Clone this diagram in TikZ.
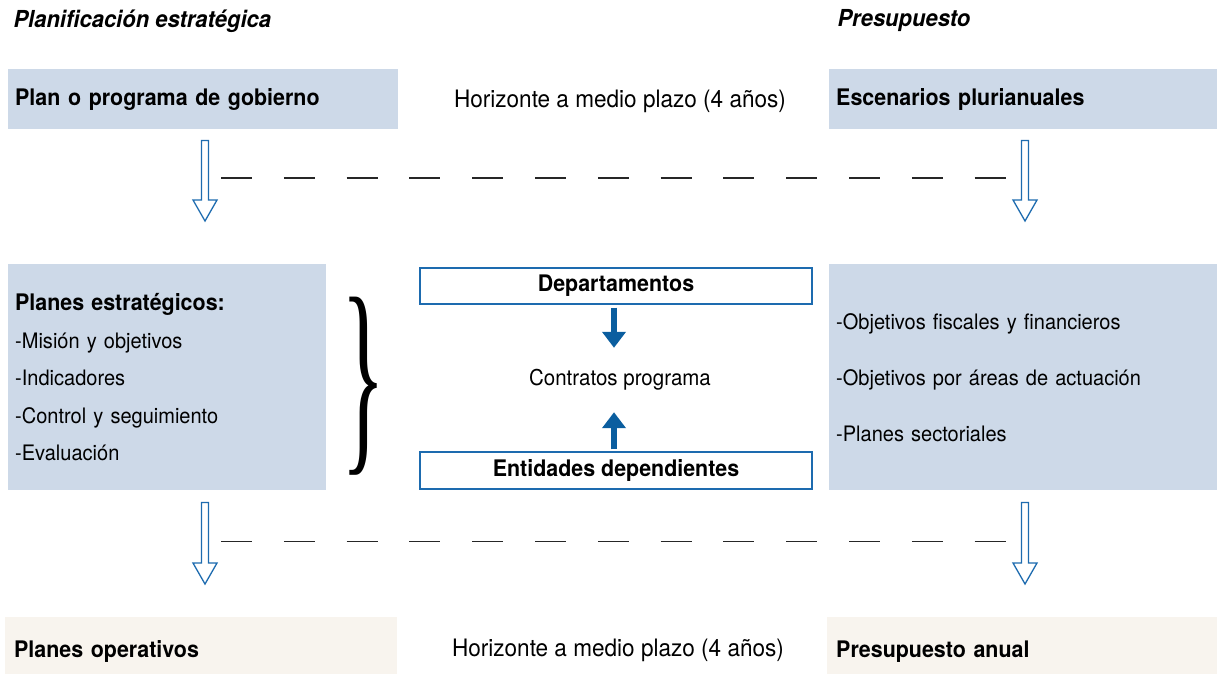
\documentclass[tikz,border=0pt]{standalone}
\usepackage{fontspec}
\setmainfont[FakeStretch=0.94]{TeX Gyre Heros}
\newfontfamily\bracefont{Liberation Serif}
\usepackage{tikz}
\usetikzlibrary{arrows.meta,calc,positioning}
\definecolor{boxblue}{HTML}{CDD9E8}
\definecolor{boxbeige}{HTML}{F8F4EE}
\definecolor{arrblue}{HTML}{1D6BAF}
\definecolor{solidblue}{HTML}{0B5E9F}

\begin{document}
\begin{tikzpicture}[x=1pt, y=-1pt,
                    bluebox/.style={rectangle, fill=boxblue, inner xsep=7pt, align=left,
                                    anchor=north west, font=\fontsize{22.8pt}{27pt}\selectfont},
                    beigebox/.style={bluebox, fill=boxbeige},
                    unitbox/.style={rectangle, draw=arrblue, line width=1.2pt, fill=white,
                                    minimum width=392pt, font=\fontsize{22.8pt}{27pt}\selectfont\bfseries},
                    hollow/.style={draw=arrblue, line width=1.3pt, fill=white,
                                   to path={let \p1=(\tikztostart), \p2=(\tikztotarget) in
                                   (\x1-3.5pt,\y1) -- (\x1-3.5pt,\y2+21pt) -- (\x1-12pt,\y2+21pt) -- (\x1,\y2)
                                   -- (\x1+12pt,\y2+21pt) -- (\x1+3.5pt,\y2+21pt) -- (\x1+3.5pt,\y1) -- cycle}},
                    solidarr/.style={draw=solidblue, line width=6.5pt, -{Triangle[width=23pt,length=16pt]}},
                    dashline/.style={line width=1.5pt, black!85, dash pattern=on 31pt off 31.8pt},
                    horizon/.style={font=\fontsize{24pt}{28pt}\selectfont}
                    ]
\useasboundingbox (0,0) rectangle (1217,673);

%% headers
\node[anchor=west, font=\fontsize{23.4pt}{27pt}\selectfont\bfseries\itshape] (hplan) at (10,21) {Planificación estratégica};
\node[anchor=west, font=\fontsize{23.4pt}{27pt}\selectfont\bfseries\itshape] (hpres) at (834,21) {Presupuesto};

%% top row
\node[bluebox, text width=376pt, minimum height=60pt] (plan) at (8,69) {\bfseries Plan o programa de gobierno};
\node[horizon] (hor1) at (620,101) {Horizonte a medio plazo (4 años)};
\node[bluebox, text width=374pt, minimum height=60pt] (esc) at (829,69) {\bfseries Escenarios plurianuales};

%% middle row
\node[bluebox, text width=304pt, minimum height=226pt, font=\fontsize{21.3pt}{37.5pt}\selectfont] (estr) at (8,264)
  {{\fontsize{22.8pt}{37.5pt}\selectfont\bfseries Planes estratégicos:}\\
   -Misión y objetivos\\
   -Indicadores\\
   -Control y seguimiento\\
   -Evaluación};
\node[inner sep=0pt] (brace) at (364,386) {\resizebox*{44pt}{178pt}{\bracefont\}}};
\node[unitbox, minimum height=36pt] (dep) at (616,286) {Departamentos};
\node[minimum height=64pt, font=\fontsize{21.8pt}{25pt}\selectfont] (contr) at (620,380) {Contratos programa};
\node[unitbox, minimum height=37pt] (ent) at (616,470.5) {Entidades dependientes};
\node[bluebox, text width=374pt, minimum height=226pt, font=\fontsize{21.3pt}{56pt}\selectfont] (obj) at (829,264)
  {-Objetivos fiscales y financieros\\
   -Objetivos por áreas de actuación\\
   -Planes sectoriales};

%% bottom row (boxes run on past the lower edge)
\node[beigebox, text width=374pt, minimum height=68pt, inner xsep=9pt] (oper) at (5,617) {\bfseries Planes operativos};
\node[horizon] (hor2) at (618,650) {Horizonte a medio plazo (4 años)};
\node[beigebox, text width=376pt, minimum height=68pt, inner xsep=9pt] (anual) at (827,617) {\bfseries Presupuesto anual};

%% arrows
\coordinate (axL) at (205,0);
\coordinate (axR) at (1025,0);
\draw[hollow] ($(plan.south -| axL)+(0,11)$) to ($(estr.north -| axL)+(0,-43)$);
\draw[hollow] ($(esc.south -| axR)+(0,11)$) to ($(obj.north -| axR)+(0,-43)$);
\draw[hollow] ($(estr.south -| axL)+(0,12)$) to ($(oper.north -| axL)+(0,-33)$);
\draw[hollow] ($(obj.south -| axR)+(0,12)$) to ($(anual.north -| axR)+(0,-33)$);

\coordinate (dash1a) at (221,178);
\coordinate (dash1b) at (1007,178);
\coordinate (dash2a) at (221,541.5);
\coordinate (dash2b) at (1007,541.5);
\draw[dashline] (dash1a) -- (dash1b);
\draw[dashline] (dash2a) -- (dash2b);

\draw[solidarr, shorten <=3pt] ([xshift=-2pt]dep.south) -- ([xshift=-2pt]dep.south |- contr.north);
\draw[solidarr, shorten <=2pt] ([xshift=-2pt]ent.north) -- ([xshift=-2pt]ent.north |- contr.south);
\end{tikzpicture}
\end{document}
